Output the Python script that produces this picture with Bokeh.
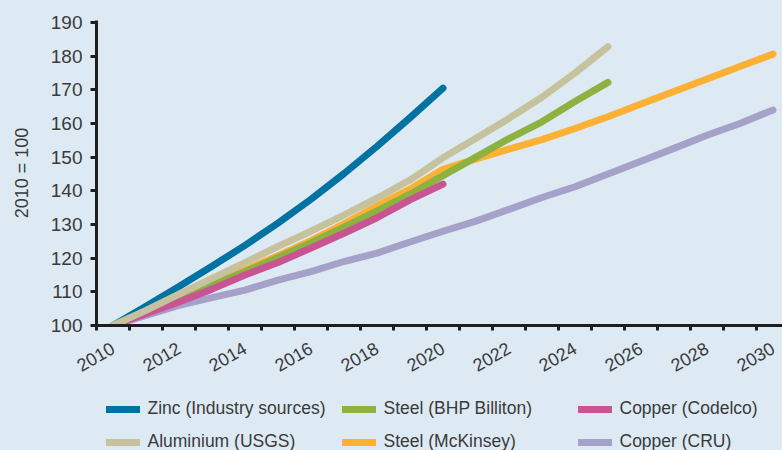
import math
from bokeh.plotting import figure
from bokeh.layouts import column
from bokeh.models import FixedTicker, Legend, LegendItem, Range1d
from bokeh.embed import file_html
from bokeh.resources import INLINE

# ---- data (index 2010 = 100) ----
years_to_2020 = list(range(2010, 2021))
years_to_2025 = list(range(2010, 2026))
years_to_2030 = list(range(2010, 2031))

zinc_industry = [100, 105.7, 111.6, 117.6, 123.8, 130.4, 137.5, 145.1, 153.2, 161.7, 170.5]
copper_codelco = [100, 103.5, 107, 110.8, 115, 118.7, 123, 127.4, 132, 137.3, 142]
aluminium_usgs = [100, 104.5, 109.3, 114, 118.7, 123.5, 128, 132.8, 137.8, 143.2, 149.8,
                  155.6, 161.5, 167.8, 175, 182.8]
steel_bhp = [100, 104, 108, 112, 116, 120.2, 124.6, 129.2, 134, 139, 144.5,
             150, 155.5, 160.5, 166.5, 172.2]
steel_mckinsey = [100, 104.2, 108.3, 112.4, 116.5, 120.7, 125.2, 130.2, 135.5, 140.5, 146.4,
                  149.5, 152.4, 155.2, 158.5, 162, 165.8, 169.5, 173.2, 176.9, 180.6]
copper_cru = [100, 103, 106, 108.3, 110.5, 113.5, 116, 119, 121.5, 124.8, 128,
              131, 134.5, 138, 141.2, 145, 148.8, 152.6, 156.5, 160, 164]

# legend order (row by row) and colours
series_labels = ["Zinc (Industry sources)", "Steel (BHP Billiton)", "Copper (Codelco)",
                 "Aluminium (USGS)", "Steel (McKinsey)", "Copper (CRU)"]
series_years = [years_to_2020, years_to_2025, years_to_2020,
                years_to_2025, years_to_2030, years_to_2030]
series_values = [zinc_industry, steel_bhp, copper_codelco,
                 aluminium_usgs, steel_mckinsey, copper_cru]
series_colors = ["#0073a3", "#8db23f", "#c85494", "#c5c29d", "#fcb034", "#a6a1c8"]
draw_order = [5, 4, 1, 2, 0, 3]

x_tick_labels = list(range(2010, 2031, 2))
y_ticks = list(range(100, 191, 10))

BG = "#deeaf3"
TXT = "#3a3a3a"
AX = "#1e1e1e"
FONT = "Liberation Sans"
LW = 7
style = dict(line_width=LW, line_cap="round", line_join="round")

p = figure(width=782, height=380,
           x_range=Range1d(2009.5, 2030.29), y_range=Range1d(100, 190.58),
           output_backend="svg", toolbar_location=None,
           min_border_left=96, min_border_right=0, min_border_top=20, min_border_bottom=49)
p.background_fill_color = BG
p.border_fill_color = BG
p.outline_line_color = None
p.xgrid.grid_line_color = None
p.ygrid.grid_line_color = None

for i in draw_order:
    p.line(series_years[i], series_values[i], line_color=series_colors[i], **style)

# x axis: labels every two years, ticks between years
xa = p.xaxis[0]
xa.ticker = FixedTicker(ticks=x_tick_labels, minor_ticks=[2009.5 + i for i in range(22)])
xa.major_label_orientation = math.pi / 6
xa.major_tick_line_color = None
xa.major_tick_out = 4
xa.major_tick_in = 0
xa.minor_tick_line_color = AX
xa.minor_tick_line_width = 3
xa.minor_tick_out = 5
xa.minor_tick_in = 0
xa.axis_line_color = AX
xa.axis_line_width = 3
xa.major_label_text_font = FONT
xa.major_label_text_font_size = "18px"
xa.major_label_text_color = TXT
xa.major_label_standoff = 16

# y axis
ya = p.yaxis[0]
ya.ticker = FixedTicker(ticks=y_ticks)
ya.axis_line_color = AX
ya.axis_line_width = 3
ya.major_tick_line_color = AX
ya.major_tick_line_width = 3
ya.major_tick_out = 6
ya.major_tick_in = 0
ya.minor_tick_line_color = None
ya.major_label_text_font = FONT
ya.major_label_text_font_size = "19px"
ya.major_label_text_color = TXT
ya.major_label_standoff = 8
ya.axis_label = "2010 = 100"
ya.axis_label_text_font = FONT
ya.axis_label_text_font_size = "18px"
ya.axis_label_text_font_style = "normal"
ya.axis_label_text_color = TXT
ya.axis_label_standoff = 16

# ---- legend strip below the chart (its lines lie outside its own view) ----
lg = figure(width=782, height=70, x_range=Range1d(0, 1), y_range=Range1d(0, 1),
            output_backend="svg", toolbar_location=None,
            min_border_left=96, min_border_right=0, min_border_top=0, min_border_bottom=0)
lg.axis.visible = False
lg.xgrid.grid_line_color = None
lg.ygrid.grid_line_color = None
lg.background_fill_color = BG
lg.border_fill_color = BG
lg.outline_line_color = None

items = []
for lab, xs, ys, col in zip(series_labels, series_years, series_values, series_colors):
    r = lg.line(xs, ys, line_color=col, **style)
    items.append(LegendItem(label=lab, renderers=[r]))

legend = Legend(items=items, orientation="horizontal", ncols=3, location=(9.5, -2))
legend.glyph_width = 34
legend.glyph_height = 20
legend.label_height = 20
legend.label_width = 182
legend.label_standoff = 8
legend.spacing = 12
legend.padding = 0
legend.margin = 0
legend.background_fill_alpha = 0
legend.border_line_color = None
legend.label_text_font = FONT
legend.label_text_font_size = "17.5px"
legend.label_text_color = TXT
lg.add_layout(legend, "center")

layout = column(p, lg, spacing=0, styles={"background-color": BG})
open("out.html", "w").write(file_html(layout, INLINE))
